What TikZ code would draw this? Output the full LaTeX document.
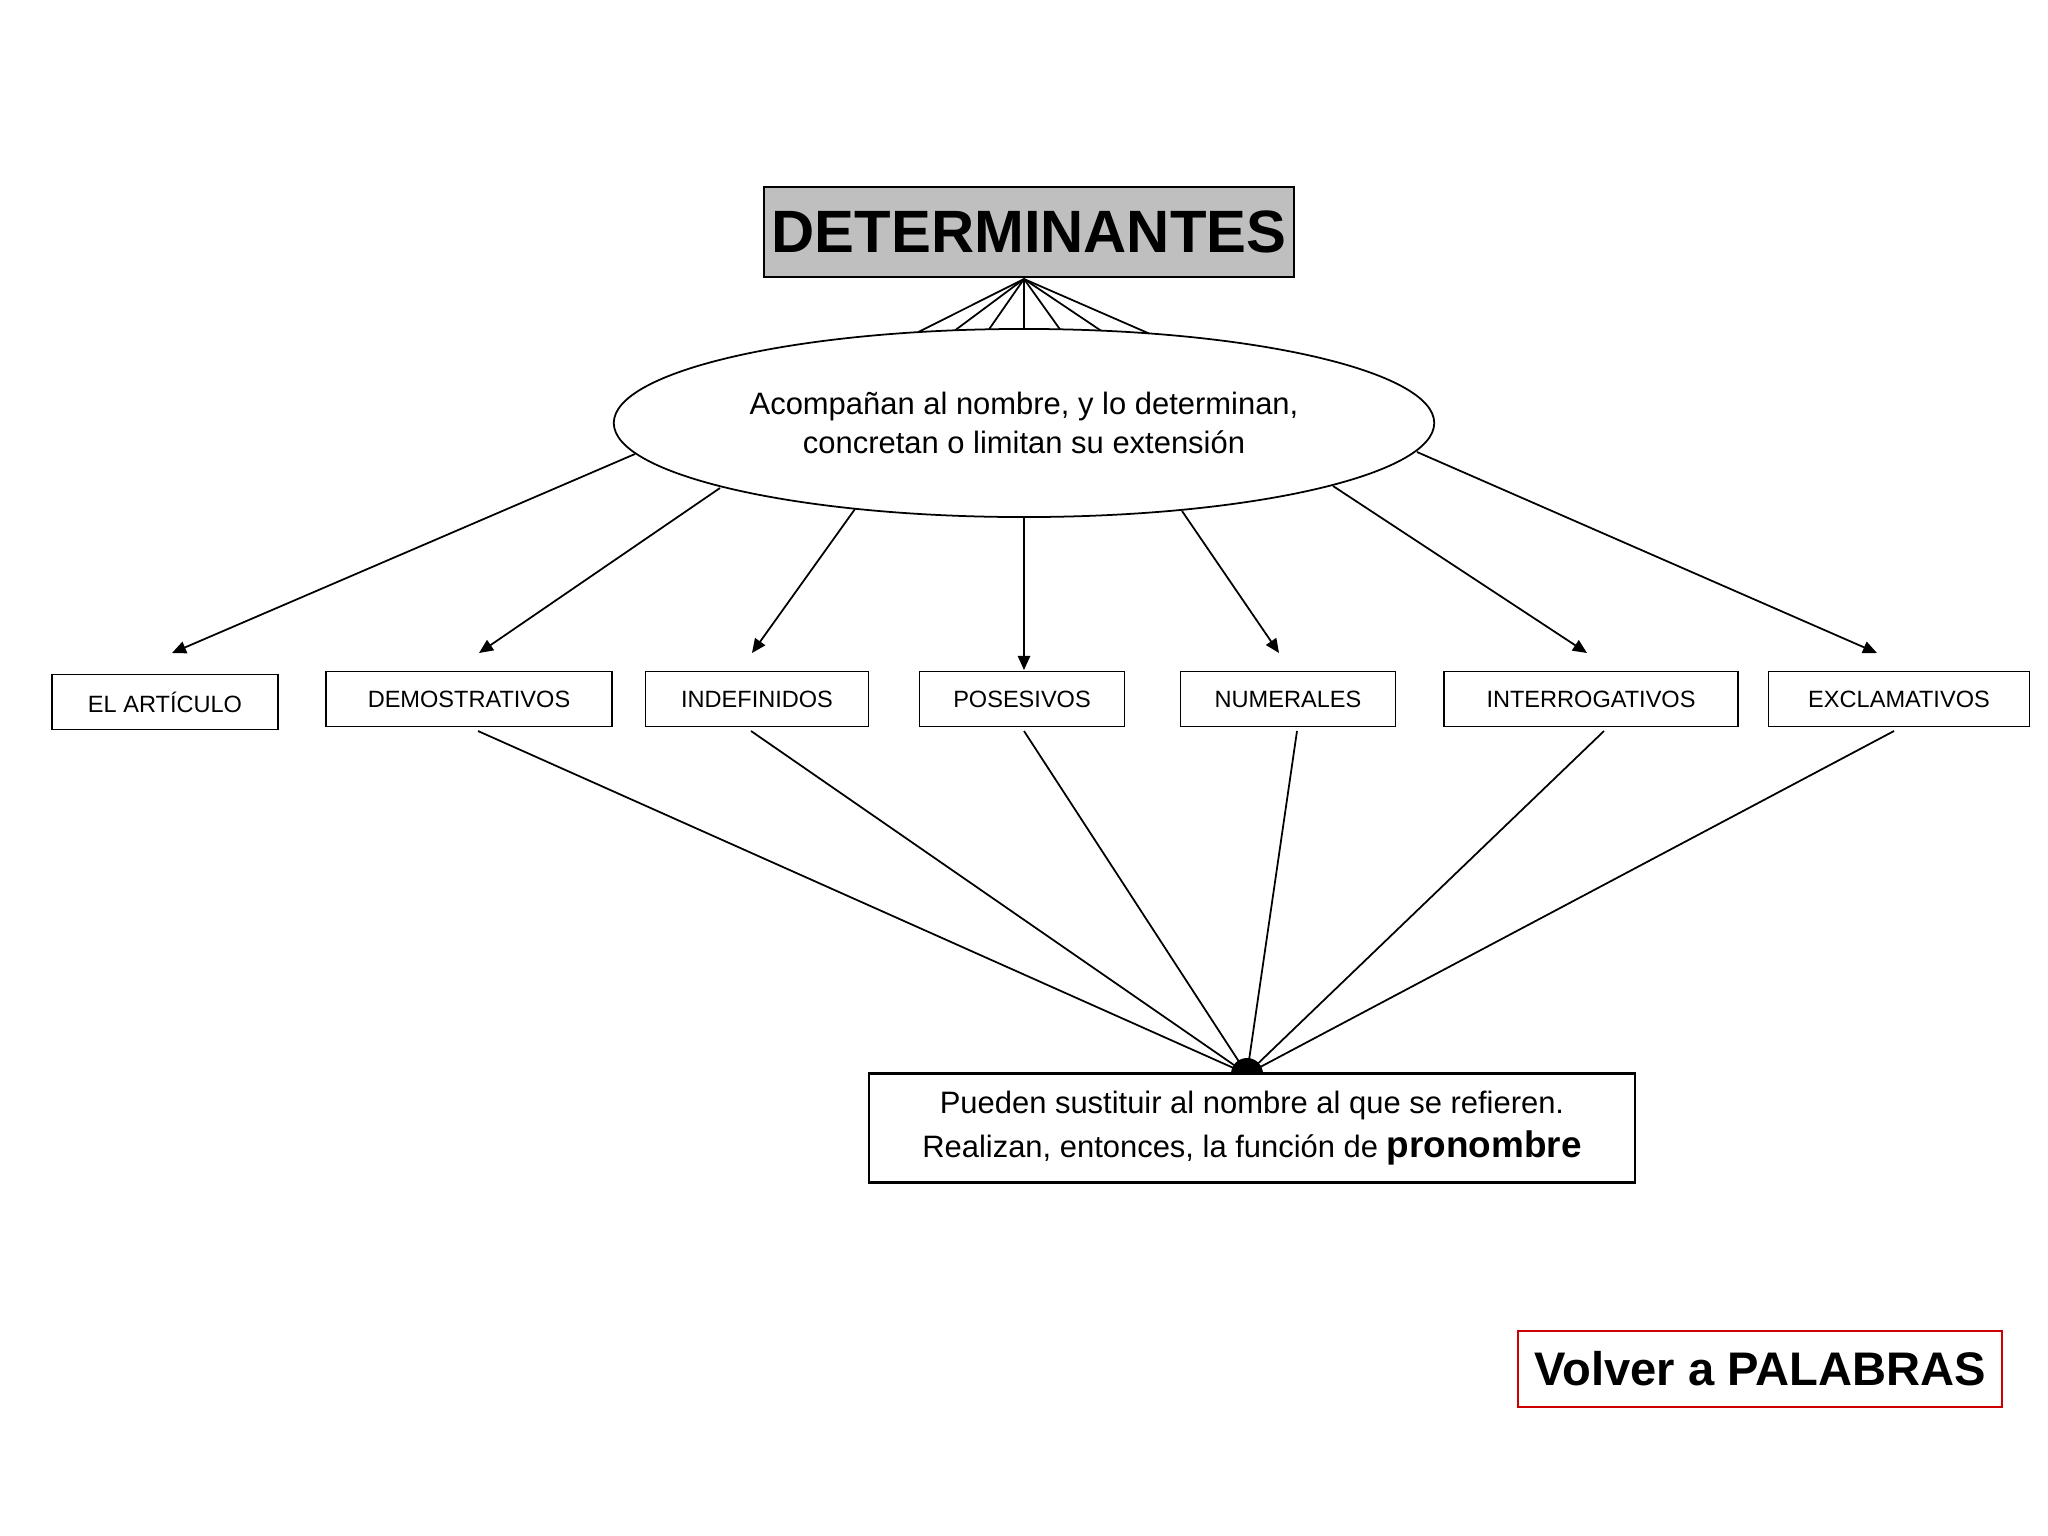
\documentclass[tikz,border=0pt]{standalone}
\usepackage{fontspec}
\setmainfont{Liberation Sans}
\usetikzlibrary{shapes.geometric,arrows.meta}
\begin{document}
\begin{tikzpicture}[x=0.01cm,y=-0.01cm,
  cat/.style={draw,line width=0.5pt,inner sep=0,font=\fontsize{6.7}{8}\selectfont},
  arr/.style={-{Triangle[length=4pt,width=3.5pt]},line width=0.5pt},
  ln/.style={line width=0.5pt}]
\useasboundingbox (0,0) rectangle (2048,1536);
\node[draw,fill=black!25,line width=0.6pt,minimum width=5.3cm,minimum height=0.9cm,inner sep=0,font=\fontsize{17}{20}\bfseries] (t) at (1029,232) {DETERMINANTES};
\node[draw,ellipse,line width=0.5pt,minimum width=8.2cm,minimum height=1.88cm,inner sep=0,align=center,font=\fontsize{8.8}{11}\selectfont] (e) at (1024,423) {Acompañan al nombre, y lo determinan,\\concretan o limitan su extensión};
\coordinate (ap) at (1024,279);
\foreach \x in {918,955,989,1024,1060,1101,1149}{
  \pgfmathsetmacro\yy{423-94*sqrt(1-((\x-1024)/410)^2)}
  \draw[ln] (ap) -- (\x,\yy);}
\node[cat,minimum width=2.26cm,minimum height=0.55cm] (b1) at (165,702) {EL ARTÍCULO};
\node[cat,minimum width=2.86cm,minimum height=0.55cm] (b2) at (469,699) {DEMOSTRATIVOS};
\node[cat,minimum width=2.23cm,minimum height=0.55cm] (b3) at (757,699) {INDEFINIDOS};
\node[cat,minimum width=2.05cm,minimum height=0.55cm] (b4) at (1022,699) {POSESIVOS};
\node[cat,minimum width=2.15cm,minimum height=0.55cm] (b5) at (1288,699) {NUMERALES};
\node[cat,minimum width=2.94cm,minimum height=0.55cm] (b6) at (1591,699) {INTERROGATIVOS};
\node[cat,minimum width=2.61cm,minimum height=0.55cm] (b7) at (1899,699) {EXCLAMATIVOS};
\foreach \sx/\sy/\ex/\ey [count=\i] in {635/454/172/653,720/488/479/653,855/509/752/653,1024/518/1024/670,1182/511/1279/653,1333/486/1587/653,1417/452/1877/653}{
  \coordinate (s\i) at (\sx,\sy); \coordinate (a\i) at (\ex,\ey);
  \draw[arr] (s\i) -- (a\i);}
\node[draw,line width=0.6pt,minimum width=7.65cm,minimum height=1.09cm,inner sep=0,align=center,font=\fontsize{8.8}{12.5}\selectfont] (p) at (1252,1128) {Pueden sustituir al nombre al que se refieren.\\Realizan, entonces, la función de {\fontsize{10.5}{12.5}\bfseries pronombre}};
\coordinate (h) at (1247,1074);
\fill (h) ++(-16,0) arc[start angle=180,end angle=0,radius=0.16cm] -- cycle;
\foreach \x in {478,751,1024,1297,1604,1894}{\coordinate (c) at (\x,731); \draw[ln] (c) -- (h);}
\node[draw=red!80!black,line width=0.6pt,minimum width=4.83cm,minimum height=0.76cm,inner sep=0,font=\fontsize{13.4}{16}\bfseries] (v) at (1760,1369) {Volver a PALABRAS};
\end{tikzpicture}
\end{document}
